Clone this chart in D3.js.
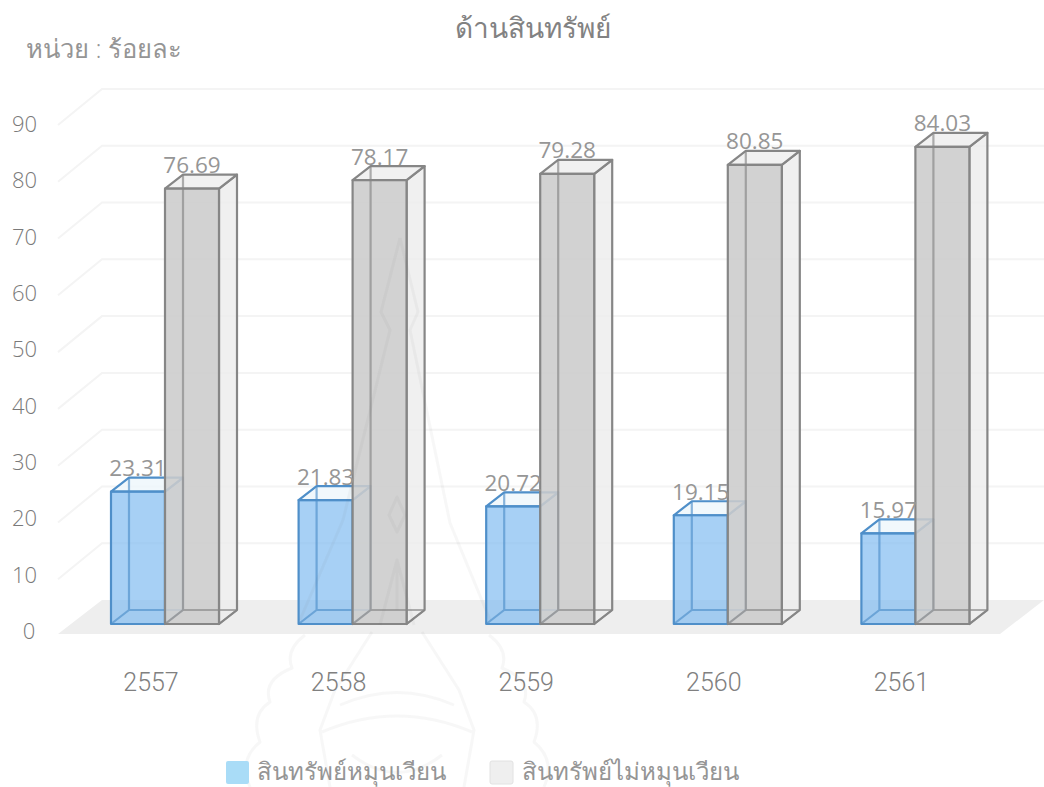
<!DOCTYPE html>
<html><head><meta charset="utf-8">
<script src="https://cdn.jsdelivr.net/npm/d3@7/dist/d3.min.js"></script>
<style>html,body{margin:0;padding:0;background:#fff}svg{display:block}text{font-family:"Open Sans","Noto Sans",sans-serif}</style>
</head><body><svg id="c" width="1044" height="787"></svg>
<script>
const years=["2557","2558","2559","2560","2561"];
const currentAssets=[23.31,21.83,20.72,19.15,15.97];
const nonCurrentAssets=[76.69,78.17,79.28,80.85,84.03];
const yTicks=[0,10,20,30,40,50,60,70,80,90];
const seriesNames=["สินทรัพย์หมุนเวียน","สินทรัพย์ไม่หมุนเวียน"];
const titleText="ด้านสินทรัพย์";
const unitText="หน่วย : ร้อยละ";

const svg=d3.select("#c");
const y=d3.scaleLinear().domain([0,90]).range([624,113]);
const yLabel=d3.scaleLinear().domain([0,90]).range([639,132]);
const x0=d3.scaleBand().domain(years).range([111,111+187.6*5]).paddingInner(0).paddingOuter(0).align(0);
const barW=54, dx=18, dy=-14;
const wallDy=-24, wallDx=44;

// floor
const wall=v=>y(v)+wallDy;
svg.append("polygon").attr("fill","#eeeeee")
  .attr("points",[[58,y(0)+10],[58+wallDx,wall(0)],[1044,wall(0)],[1000,y(0)+10]].join(" "));
// gridlines
yTicks.slice(1).forEach(v=>{
  svg.append("path").attr("fill","none").attr("stroke","#f4f4f4").attr("stroke-width",2)
   .attr("d",`M58,${wall(v)+36}L${58+wallDx},${wall(v)}L1044,${wall(v)}`);
});
// y ticks
svg.selectAll(".yt").data(yTicks).join("text").attr("x",d=>d===0?29:24.5).attr("y",d=>yLabel(d))
  .attr("text-anchor","middle").attr("font-size",22).attr("font-weight",300).attr("fill","#7a7a7a").text(d=>d);
// x labels
svg.selectAll(".xt").data(years).join("text").attr("x",d=>x0(d)+40).attr("y",691)
  .attr("text-anchor","middle").style("font-family","Roboto").attr("font-size",25).attr("font-weight",300).attr("fill","#808080").text(d=>d);

function bar(xL,v,fill,sideFill,topFill,stroke){
  const g=svg.append("g").attr("stroke",stroke).attr("stroke-width",2.2).attr("stroke-linejoin","round");
  const t=y(v),b=y(0),r=xL+barW;
  g.append("polygon").attr("fill",sideFill).attr("fill-opacity",.8).attr("points",[[r,t],[r+dx,t+dy],[r+dx,b+dy],[r,b]].join(" "));
  g.append("polygon").attr("fill",topFill).attr("fill-opacity",.8).attr("points",[[xL,t],[xL+dx,t+dy],[r+dx,t+dy],[r,t]].join(" "));
  g.append("polygon").attr("fill",fill).attr("points",[[xL,t],[r,t],[r,b],[xL,b]].join(" "));
  g.append("path").attr("fill","none").attr("stroke-opacity",.65)
   .attr("d",`M${xL+dx},${t+dy}L${xL+dx},${b+dy}L${r+dx},${b+dy}M${xL},${b}L${xL+dx},${b+dy}M${r},${b}L${r+dx},${b+dy}`);
}
years.forEach((yr,i)=>{
  const xb=x0(yr);
  bar(xb,currentAssets[i],"rgba(125,185,240,.68)","#d5e8f7","#eef6fb","#4f8fc9");
  bar(xb+barW,nonCurrentAssets[i],"rgba(204,204,204,.88)","#ececec","#eeeeee","#868686");
});
// watermark (faint emblem behind the chart in the source)
const wm=svg.append("g").attr("fill","none").attr("stroke","rgba(110,110,110,.055)").attr("stroke-width",3).attr("stroke-linejoin","round");
[
 "M400,238L381,312L390,330L343,520L300,620M400,238L418,312L410,330L450,523L490,620",
 "M397,497L389,515L397,532L405,515Z",
 "M380,625L397,560L414,625M397,560V610",
 "M305,635Q285,650 292,668Q262,680 270,702Q250,715 260,742Q238,760 250,787",
 "M489,635Q509,650 502,668Q532,680 524,702Q544,715 534,742Q556,760 544,787",
 "M372,632L335,690L320,730L330,787M422,632L459,690L474,730L464,787",
 "M340,705Q397,680 454,705M322,732Q397,700 472,732M352,755Q397,790 442,755"
].forEach(d=>wm.append("path").attr("d",d));
years.forEach((yr,i)=>{
  const xb=x0(yr);
  [[xb+barW/2,currentAssets[i]],[xb+barW*1.5,nonCurrentAssets[i]]].forEach(([cx,v])=>{
    svg.append("text").attr("x",cx).attr("y",y(v)-15.5).attr("text-anchor","middle")
      .attr("font-size",22.5).attr("font-weight",400).attr("fill","#969696").text(v.toFixed(2));
  });
});
// title
svg.append("text").attr("x",533).attr("y",38).attr("text-anchor","middle").attr("font-size",28).attr("font-weight",300).attr("fill","#828282").text(titleText);
svg.append("text").attr("x",26).attr("y",58).attr("font-size",25.5).attr("font-weight",300).attr("fill","#959595").text(unitText);
// legend
const lg=[[226,"#a9dcf7",257],[490,"#efefef",522]];
seriesNames.forEach((n,i)=>{
  svg.append("rect").attr("x",lg[i][0]).attr("y",761).attr("width",23).attr("height",23).attr("rx",2).attr("fill",lg[i][1]).attr("stroke",i?"#e2e2e2":"none");
  svg.append("text").attr("x",lg[i][2]).attr("y",780).attr("font-size",24).attr("font-weight",300).attr("fill","#959595").text(n);
});
</script></body></html>
